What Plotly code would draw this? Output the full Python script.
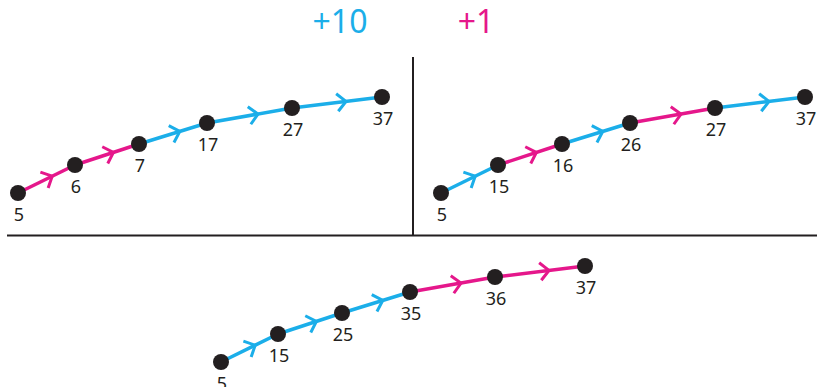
import math
import plotly.graph_objects as go

# ---- data ----
top_left_values = [5, 6, 7, 17, 27, 37]
top_left_steps = [1, 1, 10, 10, 10]
top_right_values = [5, 15, 16, 26, 27, 37]
top_right_steps = [10, 1, 10, 1, 10]
bottom_values = [5, 15, 25, 35, 36, 37]
bottom_steps = [10, 10, 10, 1, 1]
header_labels = ["+10", "+1"]

# ---- geometry / style ----
W, H = 817, 387
BLUE = "#1BAEE9"
MAGENTA = "#E5178B"
DARK = "#231F20"
step_color = {10: BLUE, 1: MAGENTA}
# shared shape of the hop path (pixel offsets from first dot)
path_dx = [0, 57, 121, 189, 274, 364]
path_dy = [0, -28, -49, -70, -85, -96]
panels = [
    (top_left_values, top_left_steps, (18, 193)),
    (top_right_values, top_right_steps, (441, 193)),
    (bottom_values, bottom_steps, (221, 362)),
]
FONT = "Noto Sans"

fig = go.Figure()

for values, steps, (ox, oy) in panels:
    xs = [ox + d for d in path_dx]
    ys = [oy + d for d in path_dy]
    for i, s in enumerate(steps):
        c = step_color[s]
        x0, y0, x1, y1 = xs[i], ys[i], xs[i + 1], ys[i + 1]
        fig.add_trace(go.Scatter(x=[x0, x1], y=[y0, y1], mode="lines",
                                 line=dict(color=c, width=3.5),
                                 hoverinfo="skip", showlegend=False))
        # chevron arrowhead
        L = math.hypot(x1 - x0, y1 - y0)
        ux, uy = (x1 - x0) / L, (y1 - y0) / L
        t = 0.6
        tx, ty = x0 + (x1 - x0) * t, y0 + (y1 - y0) * t
        bx, by = -ux, -uy
        arm = 12.5
        ang = math.radians(45)
        a1 = (tx + arm * (bx * math.cos(ang) - by * math.sin(ang)),
              ty + arm * (bx * math.sin(ang) + by * math.cos(ang)))
        a2 = (tx + arm * (bx * math.cos(-ang) - by * math.sin(-ang)),
              ty + arm * (bx * math.sin(-ang) + by * math.cos(-ang)))
        fig.add_trace(go.Scatter(x=[a1[0], tx, a2[0]], y=[a1[1], ty, a2[1]],
                                 mode="lines", line=dict(color=c, width=3),
                                 hoverinfo="skip", showlegend=False))
    fig.add_trace(go.Scatter(x=xs, y=ys, mode="markers",
                             marker=dict(color=DARK, size=16),
                             hoverinfo="skip", showlegend=False))
    fig.add_trace(go.Scatter(x=[x + 1 for x in xs], y=[y + 23 for y in ys],
                             mode="text", text=[str(v) for v in values],
                             textfont=dict(family=FONT, size=18, color=DARK),
                             cliponaxis=False, hoverinfo="skip", showlegend=False))

# header
fig.add_trace(go.Scatter(x=[340, 476], y=[25, 25], mode="text",
                         text=header_labels,
                         textfont=dict(family=FONT, size=32, color=[BLUE, MAGENTA]),
                         cliponaxis=False, hoverinfo="skip", showlegend=False))

# dividers
fig.add_shape(type="line", x0=413, x1=413, y0=57, y1=236,
              line=dict(color=DARK, width=2))
fig.add_shape(type="line", x0=7, x1=W, y0=235.5, y1=235.5,
              line=dict(color=DARK, width=2))

fig.update_layout(
    width=W, height=H, margin=dict(l=0, r=0, t=0, b=0),
    paper_bgcolor="white", plot_bgcolor="white",
    xaxis=dict(range=[0, W], visible=False, fixedrange=True),
    yaxis=dict(range=[H, 0], visible=False, fixedrange=True),
)
fig.write_html(
    "out.html",
    config={"displayModeBar": False},
    post_script="document.body.style.margin='0';document.body.style.overflow='hidden';",
)
